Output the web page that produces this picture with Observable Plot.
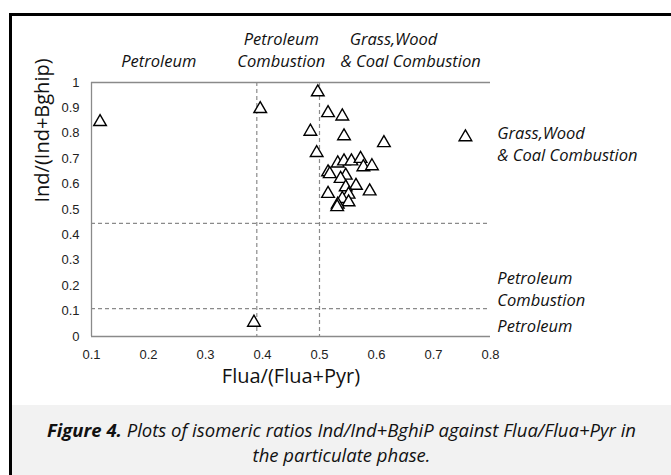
<!DOCTYPE html>
<html>
<head>
<meta charset="utf-8">
<script src="https://cdn.jsdelivr.net/npm/d3@7"></script>
<script src="https://cdn.jsdelivr.net/npm/@observablehq/plot@0.6"></script>
<style>
  html, body { margin: 0; padding: 0; background: #fff; }
  #wrap { position: relative; width: 671px; height: 475px; overflow: hidden; }
  #chart { position: absolute; left: 0; top: 0; }
  .bl { position: absolute; left: 9px; top: 13px; width: 3px; height: 462px; background: #000; }
  .bt { position: absolute; left: 9px; top: 13px; width: 662px; height: 3px; background: #000; }
  #cap { position: absolute; left: 12px; right: 0; top: 405px; height: 70px; background: #f2f2f2;
         font-family: "Open Sans", sans-serif; font-style: italic; font-size: 18.5px; color: #111;
         text-align: center; line-height: 25px; padding-top: 12px; box-sizing: border-box; white-space: nowrap; }
</style>
</head>
<body>
<div id="wrap">
  <div id="chart"></div>
  <div class="bl"></div>
  <div class="bt"></div>
  <div id="cap"><b>Figure 4.</b> Plots of isomeric ratios Ind/Ind+BghiP against Flua/Flua+Pyr in<br>the particulate phase.</div>
</div>
<script>
// Data
const flua = [0.115, 0.385, 0.497, 0.396, 0.515, 0.540, 0.484, 0.543, 0.613, 0.495, 0.756,
  0.532, 0.543, 0.556, 0.572, 0.577, 0.592,
  0.515, 0.518, 0.546, 0.537,
  0.564, 0.546, 0.515, 0.588, 0.551, 0.540, 0.551, 0.532, 0.531];
const ind = [0.845, 0.055, 0.962, 0.896, 0.880, 0.867, 0.807, 0.789, 0.762, 0.723, 0.785,
  0.682, 0.690, 0.690, 0.700, 0.667, 0.671,
  0.647, 0.640, 0.634, 0.621,
  0.594, 0.588, 0.562, 0.572, 0.559, 0.542, 0.529, 0.520, 0.510];
const xTicks = [0.1, 0.2, 0.3, 0.4, 0.5, 0.6, 0.7, 0.8];
const yTicks = [0, 0.1, 0.2, 0.3, 0.4, 0.5, 0.6, 0.7, 0.8, 0.9, 1];
const vThresholds = [0.39, 0.5];
const hThresholds = [0.11, 0.445];
// Zone labels above the plot (centred) and beside it (left-aligned)
const topCentered = [
  {x: 0.218, y: 1.083, text: "Petroleum"},
  {x: 0.433, y: 1.169, text: "Petroleum"},
  {x: 0.433, y: 1.083, text: "Combustion"}
];
const topStart = [
  {x: 0.553, y: 1.169, text: "Grass,Wood"},
  {x: 0.537, y: 1.083, text: "& Coal Combustion"}
];
const rightLabels = [
  {x: 0.812, y: 0.80, text: "Grass,Wood"},
  {x: 0.812, y: 0.713, text: "& Coal Combustion"},
  {x: 0.812, y: 0.226, text: "Petroleum"},
  {x: 0.812, y: 0.139, text: "Combustion"},
  {x: 0.812, y: 0.039, text: "Petroleum"}
];

const points = flua.map((f, i) => ({flua: f, ind: ind[i]}));
const fmt = d => d === 0 ? "0" : d === 1 ? "1" : String(d);
const gray = "#8a8a8a";
const annot = {x: "x", y: "y", text: "text", clip: false,
  fontFamily: "'Open Sans', sans-serif", fontStyle: "italic", fontSize: 16.5, fill: "#111"};

const chart = Plot.plot({
  width: 671,
  height: 405,
  marginLeft: 91,
  marginRight: 181,
  marginTop: 82,
  marginBottom: 69,
  style: {fontFamily: "'Liberation Sans', Arial, sans-serif", fontSize: "13px", color: "#222", background: "transparent", overflow: "visible"},
  x: {domain: [0.1, 0.8]},
  y: {domain: [0, 1]},
  marks: [
    Plot.axisX({ticks: xTicks, tickSize: 0, tickPadding: 13, tickFormat: fmt, label: null, fontSize: 13}),
    Plot.axisY({ticks: yTicks, tickSize: 0, tickPadding: 12, tickFormat: fmt, label: null, fontSize: 13}),
    Plot.ruleY(hThresholds, {stroke: gray, strokeWidth: 1.2, strokeDasharray: "4,3"}),
    Plot.ruleX(vThresholds, {stroke: gray, strokeWidth: 1.2, strokeDasharray: "4,3"}),
    Plot.ruleY([0, 1], {stroke: gray, strokeWidth: 1.3}),
    Plot.ruleX([0.1], {stroke: gray, strokeWidth: 1.3}),
    Plot.dot(points, {x: "flua", y: "ind", symbol: "triangle", r: 4.7, stroke: "#000", strokeWidth: 1.4, fill: "#fff"}),
    Plot.text(topCentered, {...annot, textAnchor: "middle"}),
    Plot.text(topStart, {...annot, textAnchor: "start"}),
    Plot.text(rightLabels, {...annot, textAnchor: "start"}),
    Plot.text(["Flua/(Flua+Pyr)"], {frameAnchor: "bottom", dy: 46, fontFamily: "'Open Sans', sans-serif", fontSize: 20, fill: "#111"}),
    Plot.text(["Ind/(Ind+Bghip)"], {frameAnchor: "left", dx: -49, dy: -7, rotate: -90, fontFamily: "'Open Sans', sans-serif", fontSize: 20, fill: "#111"})
  ]
});
document.getElementById("chart").appendChild(chart);
</script>
</body>
</html>
